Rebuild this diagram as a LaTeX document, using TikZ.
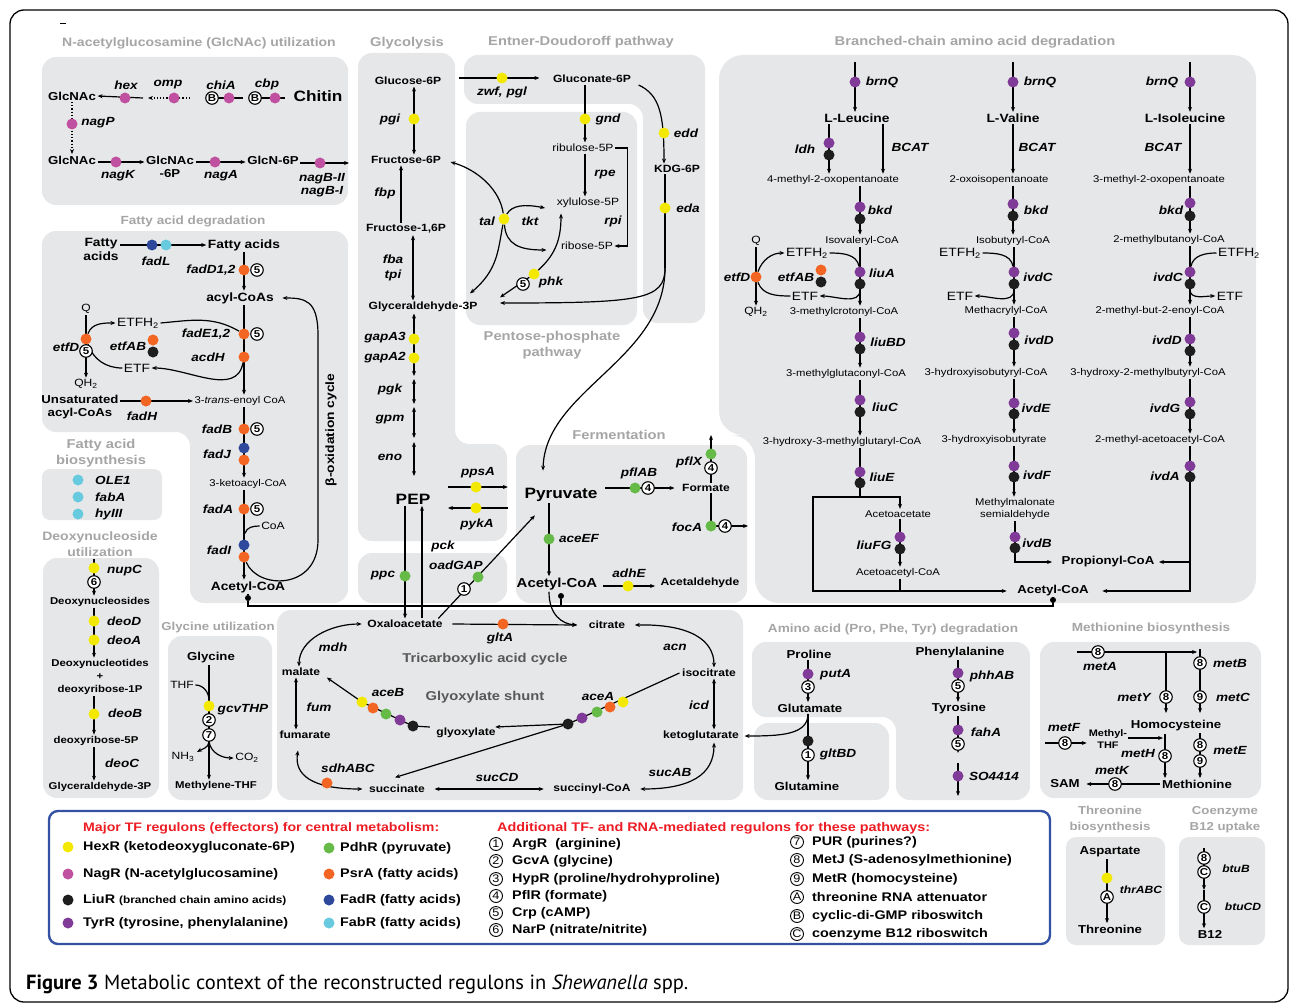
\documentclass[tikz,border=0pt]{standalone}
\usepackage{fontspec}
\setmainfont{Liberation Sans}[FakeStretch=1.15]
\newfontfamily\capfont{PT Sans}
\usetikzlibrary{arrows.meta}
\pgfdeclarelayer{bg}
\pgfdeclarelayer{ln}
\pgfsetlayers{bg,ln,main}

\definecolor{boxgray}{RGB}{230,231,232}
\definecolor{ttlgray}{RGB}{165,165,165}
\definecolor{txtgray}{RGB}{88,88,88}
\definecolor{hexc}{RGB}{243,232,0}
\definecolor{nagc}{RGB}{192,80,160}
\definecolor{liuc}{RGB}{30,30,30}
\definecolor{tyrc}{RGB}{128,58,152}
\definecolor{pdhc}{RGB}{102,186,72}
\definecolor{psrc}{RGB}{242,101,34}
\definecolor{fadc}{RGB}{46,72,156}
\definecolor{fabc}{RGB}{104,202,222}
\definecolor{legred}{RGB}{237,28,36}
\definecolor{legblue}{RGB}{52,82,164}

\tikzset{
  met/.style={font=\bfseries\fontsize{10.5}{12.5}\selectfont, inner sep=1.5pt},
  metm/.style={font=\bfseries\fontsize{11.5}{13.5}\selectfont, inner sep=1.5pt},
  metb/.style={font=\bfseries\fontsize{12}{14}\selectfont, inner sep=1.5pt},
  metc/.style={font=\bfseries\fontsize{13}{15}\selectfont, inner sep=1.5pt},
  metl/.style={font=\bfseries\fontsize{15}{17}\selectfont, inner sep=1.5pt},
  mets/.style={font=\bfseries\fontsize{9.9}{12}\selectfont, inner sep=1.5pt},
  metr/.style={font=\fontsize{9.8}{12}\selectfont, inner sep=1.5pt},
  metr2/.style={font=\fontsize{10.5}{12}\selectfont, inner sep=1.5pt},
  metq/.style={font=\fontsize{12}{13}\selectfont, inner sep=1.5pt},
  gene/.style={font=\bfseries\itshape\fontsize{11.8}{13.5}\selectfont, inner sep=1pt},
  genes/.style={font=\bfseries\itshape\fontsize{10.5}{12}\selectfont, inner sep=1pt},
  grp/.style={font=\bfseries\fontsize{12.8}{16}\selectfont, text=ttlgray, align=center},
  grpn/.style={font=\bfseries\fontsize{11.8}{16}\selectfont, text=ttlgray, align=center},
  grps/.style={font=\bfseries\fontsize{11.5}{16}\selectfont, text=ttlgray, align=center},
  inttl/.style={font=\bfseries\fontsize{12.8}{15}\selectfont, text=txtgray},
  area/.style={fill=boxgray, rounded corners=14pt},
  rdot/.style={circle, fill=#1, inner sep=0pt, minimum size=11pt},
  jdot/.style={circle, fill=black, inner sep=0pt, minimum size=6pt},
  rg/.style={circle, draw, line width=1.1pt, fill=white, inner sep=0pt, minimum size=12.5pt, font=\bfseries\fontsize{10}{10}\selectfont},
  lg/.style={circle, draw, line width=0.9pt, inner sep=0pt, minimum size=13pt, font=\fontsize{11}{11}\selectfont},
  legtxt/.style={anchor=west, font=\bfseries\fontsize{12.5}{14}\selectfont, inner sep=0pt},
  con/.style={line width=1.2pt},
  >={Stealth[length=5pt,width=4pt]}
}

\begin{document}
\begin{tikzpicture}[x=1pt,y=-1pt]
\useasboundingbox (0,0) rectangle (1290,1003);
\draw[line width=1.3pt, rounded corners=14pt] (10,1002) -- (10,10) -- (1288,10) -- (1288,1002) -- cycle;
\draw[line width=1pt] (60,24) -- (66,24);

\begin{pgfonlayer}{bg}
  \fill[area] (42,57) rectangle (348,205);
  \fill[area] (42,231) -- (348,231) -- (348,603) -- (190,603) -- (190,432) -- (42,432) -- cycle;
  \fill[area, rounded corners=8pt] (42,469) rectangle (162,520);
  \fill[area] (43,558) rectangle (159,798);
  \fill[area] (168,636) rectangle (272,800);
  \fill[area] (358,53) -- (455,53) -- (455,444) -- (507,444) -- (507,541) -- (358,541) -- cycle;
  \fill[area] (358,553) rectangle (507,603);
  \fill[area] (464,55) -- (705,55) -- (705,323) -- (643,323) -- (643,104) -- (464,104) -- cycle;
  \fill[area] (466,112) rectangle (637,325);
  \fill[area] (516,445) rectangle (747,603);
  \fill[area, rounded corners=24pt] (719,55) -- (1256,55) -- (1256,603) -- (755,603) -- (755,435) -- (719,435) -- cycle;
  \fill[area] (277,610) rectangle (743,800);
  \fill[area] (752,642) -- (1030,642) -- (1030,800) -- (896,800) -- (896,717) -- (752,717) -- cycle;
  \fill[area] (754,723) rectangle (889,800);
  \fill[area] (1040,642) rectangle (1261,798);
  \fill[area, rounded corners=10pt] (1066,837) rectangle (1165,945);
  \fill[area, rounded corners=10pt] (1179,837) rectangle (1265,945);
\end{pgfonlayer}

%% group titles
\node[grp, font=\bfseries\fontsize{12.2}{16}\selectfont] (tglc) at (199,43) {N-acetylglucosamine (GlcNAc) utilization};
\node[grp] (tglyc) at (407,43) {Glycolysis};
\node[grp] (ted) at (581,42) {Entner-Doudoroff pathway};
\node[grp] (tbcaa) at (975,42) {Branched-chain amino acid degradation};
\node[grpn] (tfad) at (193,221) {Fatty acid degradation};
\node[grp] (tfab) at (101,453) {Fatty acid\\biosynthesis};
\node[grp, font=\bfseries\fontsize{12.2}{16}\selectfont] (tdeo) at (100,544) {Deoxynucleoside\\utilization};
\node[grps] (tgly) at (218,628) {Glycine utilization};
\node[grp] (tppp) at (552,345) {Pentose-phosphate\\pathway};
\node[grp] (tfer) at (619,435) {Fermentation};
\node[grpn] (taa) at (893,629) {Amino acid (Pro, Phe, Tyr) degradation};
\node[grpn] (tmet) at (1151,628) {Methionine biosynthesis};
\node[grps] (tthr) at (1110,820) {Threonine\\biosynthesis};
\node[grps] (tb12) at (1225,820) {Coenzyme\\B12 uptake};

%% GlcNAc utilization
\node[metm] (glcA) at (72,96) {GlcNAc};
\node[metl] (chitin) at (318,96) {Chitin};
\node[metm] (glcB) at (72,160) {GlcNAc};
\node[metm, align=center] (glc6p) at (170,167) {GlcNAc\\-6P};
\node[metm] (gln6p) at (273,160) {GlcN-6P};
\coordinate (nagout) at (349,163);
\node[rdot=nagc] (hexd) at (125,98) {};
\node[gene] (ghex) at (126,85) {hex};
\node[rdot=nagc] (ompd) at (174,98) {};
\node[gene] (gomp) at (168,85) {omp};
\node[rg] (chiB) at (212,98) {B};
\node[rdot=nagc] (chid) at (229,98) {};
\node[gene] (gchi) at (221,85) {chiA};
\node[rg] (cbpB) at (255,98) {B};
\node[rdot=nagc] (cbpd) at (275,98) {};
\node[gene] (gcbp) at (267,84) {cbp};
\node[rdot=nagc] (nagPd) at (72,124) {};
\node[gene] (gnagP) at (98,123) {nagP};
\node[rdot=nagc] (nagKd) at (116,162) {};
\node[gene] (gnagK) at (118,176) {nagK};
\node[rdot=nagc] (nagAd) at (215,162) {};
\node[gene] (gnagA) at (221,176) {nagA};
\node[rdot=nagc] (nagBd) at (320,163) {};
\node[gene, align=center] (gnagB) at (322,185) {nagB-II\\nagB-I};

%% fatty acid degradation
\node[metb, align=center] (faout) at (101,249) {Fatty\\acids};
\node[metb] (fain) at (244,245) {Fatty acids};
\node[metb] (acyl) at (240,298) {acyl-CoAs};
\node[metr] (enoyl) at (240,401) {3-\textit{trans}-enoyl CoA};
\node[metr] (ketoacyl) at (248,484) {3-ketoacyl-CoA};
\node[metb] (acfa) at (248,587) {Acetyl-CoA};
\node[metm, align=center] (unsat) at (80,407) {Unsaturated\\acyl-CoAs};
\node[metr2] (qa) at (86,309) {Q};
\node[metr2] (qha) at (86,384) {QH\textsubscript{2}};
\node[metq] (etfha) at (138,323) {ETFH\textsubscript{2}};
\node[metq] (etfa) at (137,368) {ETF};
\node[metr2] (coa) at (273,526) {CoA};
\node[rdot=fadc] (fadL1) at (152,245) {};
\node[rdot=fabc] (fadL2) at (166,245) {};
\node[gene] (gfadL) at (156,261) {fadL};
\node[rdot=psrc] (fadDd) at (244,270) {};
\node[rg] (fadDr) at (257,270) {5};
\node[gene] (gfadD) at (211,270) {fadD1,2};
\node[rdot=psrc] (fadEd) at (244,334) {};
\node[rg] (fadEr) at (257,334) {5};
\node[gene] (gfadE) at (206,334) {fadE1,2};
\node[rdot=psrc] (acdHd) at (244,357) {};
\node[gene] (gacdH) at (208,357) {acdH};
\node[rdot=psrc] (etfDd) at (86,339) {};
\node[rg] (etfDr) at (86,351) {5};
\node[gene] (getfD) at (66,347) {etfD};
\node[rdot=psrc] (etfAB1) at (153,340) {};
\node[rdot=liuc] (etfAB2) at (153,352) {};
\node[gene] (getfAB) at (128,346) {etfAB};
\node[rdot=psrc] (fadHd) at (146,401) {};
\node[gene] (gfadH) at (142,416) {fadH};
\node[rdot=psrc] (fadBd) at (244,429) {};
\node[rg] (fadBr) at (257,429) {5};
\node[gene] (gfadB) at (217,429) {fadB};
\node[rdot=fadc] (fadJ1) at (244,448) {};
\node[rdot=psrc] (fadJ2) at (244,460) {};
\node[gene] (gfadJ) at (217,454) {fadJ};
\node[rdot=psrc] (fadAd) at (244,509) {};
\node[rg] (fadAr) at (257,509) {5};
\node[gene] (gfadA) at (218,509) {fadA};
\node[rdot=fadc] (fadI1) at (244,545) {};
\node[rdot=psrc] (fadI2) at (244,557) {};
\node[gene] (gfadI) at (219,550) {fadI};
\node[font=\bfseries\fontsize{12}{12}\selectfont, rotate=90] (betaox) at (331,430) {β-oxidation cycle};
\node[jdot] (acfab) at (248,598) {};
\coordinate (busL) at (248,606);

%% fatty acid biosynthesis
\node[rdot=fabc] (ole1d) at (78,480) {};
\node[gene, anchor=west] (gole1) at (94,480) {OLE1};
\node[rdot=fabc] (fabAd) at (78,497) {};
\node[gene, anchor=west] (gfabA) at (94,497) {fabA};
\node[rdot=fabc] (hyd) at (78,514) {};
\node[gene, anchor=west] (ghy) at (94,514) {hyIII};

%% deoxynucleoside utilization
\coordinate (nuptop) at (94,559);
\node[mets] (dns) at (100,602) {Deoxynucleosides};
\node[mets] (dnt) at (100,664) {Deoxynucleotides};
\node[mets] (dplus) at (100,677) {+};
\node[mets] (dr1p) at (100,690) {deoxyribose-1P};
\node[mets] (dr5p) at (96,741) {deoxyribose-5P};
\node[mets] (gapd) at (100,787) {Glyceraldehyde-3P};
\node[rdot=hexc] (nupd) at (94,568) {};
\node[rg] (nupr) at (94,582) {6};
\node[gene, anchor=west] (gnup) at (106,571) {nupC};
\node[rdot=hexc] (deoDd) at (94,621) {};
\node[gene, anchor=west] (gdeoD) at (106,621) {deoD};
\node[rdot=hexc] (deoAd) at (94,640) {};
\node[gene, anchor=west] (gdeoA) at (106,640) {deoA};
\node[rdot=hexc] (deoBd) at (94,714) {};
\node[gene, anchor=west] (gdeoB) at (107,713) {deoB};
\node[gene, anchor=west] (gdeoC) at (104,763) {deoC};

%% glycine utilization
\node[metm] (glyc) at (211,658) {Glycine};
\node[metr2] (thf) at (182,685) {THF};
\node[metr2] (nh3) at (183,757) {NH\textsubscript{3}};
\node[metr2] (co2) at (247,758) {CO\textsubscript{2}};
\node[mets] (mthf) at (216,786) {Methylene-THF};
\node[rdot=hexc] (gcvd) at (209,706) {};
\node[rg] (gcv2) at (209,720) {2};
\node[rg] (gcv7) at (209,735) {7};
\node[gene] (ggcv) at (243,710) {gcvTHP};

%% glycolysis
\node[met] (g6p) at (408,81) {Glucose-6P};
\node[met] (f6p) at (406,160) {Fructose-6P};
\node[met] (f16p) at (406,229) {Fructose-1,6P};
\node[met] (gap) at (423,307) {Glyceraldehyde-3P};
\node[metl] (pep) at (413,499) {PEP};
\node[rdot=hexc] (pgid) at (414,119) {};
\node[gene] (gpgi) at (390,119) {pgi};
\coordinate (fbpx) at (401,190);
\node[gene] (gfbp) at (385,193) {fbp};
\coordinate (fbax) at (413,265);
\node[gene] (gfba) at (393,259) {fba};
\node[gene] (gtpi) at (393,275) {tpi};
\coordinate (gk1) at (414,376);
\coordinate (gk2) at (414,379);
\coordinate (gk3) at (414,404);
\coordinate (gk4) at (414,407);
\coordinate (gk5) at (414,438);
\coordinate (gk6) at (414,442);
\coordinate (gk7) at (414,476);
\node[rdot=hexc] (gapA3d) at (414,339) {};
\node[gene] (ggapA3) at (385,338) {gapA3};
\node[rdot=hexc] (gapA2d) at (414,358) {};
\node[gene] (ggapA2) at (385,358) {gapA2};
\node[gene] (gpgk) at (390,389) {pgk};
\node[gene] (ggpm) at (390,420) {gpm};
\node[gene] (geno) at (390,457) {eno};
\node[rdot=hexc] (ppsAd) at (476,487) {};
\node[gene] (gppsA) at (478,473) {ppsA};
\node[rdot=hexc] (pykAd) at (476,508) {};
\node[gene] (gpykA) at (477,524) {pykA};
\node[rdot=pdhc] (ppcd) at (405,576) {};
\node[gene] (gppc) at (383,576) {ppc};
\coordinate (pckx) at (422,560);
\node[gene] (gpck) at (443,546) {pck};
\node[gene] (goad) at (456,565) {oadGAP};
\node[rdot=pdhc] (oadd) at (478,577) {};
\node[rg] (oadr) at (464,589) {1};

%% Entner-Doudoroff and pentose phosphate
\node[met] (gn6p) at (592,79) {Gluconate-6P};
\node[met] (kdg) at (677,169) {KDG-6P};
\node[metr2] (ru5p) at (583,148) {ribulose-5P};
\node[metr2] (xu5p) at (588,203) {xylulose-5P};
\node[metr2] (r5p) at (587,246) {ribose-5P};
\node[rdot=hexc] (zwfd) at (502,78) {};
\node[gene] (gzwf) at (502,92) {zwf, pgl};
\node[rdot=hexc] (gndd) at (585,119) {};
\node[gene] (ggnd) at (608,119) {gnd};
\node[gene] (grpe) at (605,175) {rpe};
\node[gene] (grpi) at (613,221) {rpi};
\node[rdot=hexc] (eddd) at (664,133) {};
\node[gene] (gedd) at (686,133) {edd};
\node[rdot=hexc] (edad) at (665,208) {};
\node[gene] (geda) at (688,208) {eda};
\coordinate (edaj) at (665,268);
\node[rdot=hexc] (tald) at (504,219) {};
\node[gene] (gtal) at (487,221) {tal};
\node[gene] (gtkt) at (530,221) {tkt};
\node[rdot=hexc] (phkd) at (534,274) {};
\node[rg] (phkr) at (523,284) {5};
\node[gene] (gphk) at (551,282) {phk};

%% fermentation
\node[metl] (pyr) at (561,495) {Pyruvate};
\node[met] (form) at (706,488) {Formate};
\node[metc] (acfer) at (557,584) {Acetyl-CoA};
\node[met] (acald) at (700,583) {Acetaldehyde};
\node[rdot=pdhc] (pflABd) at (635,488) {};
\node[rg] (pflABr) at (648,488) {4};
\node[gene] (gpflAB) at (639,473) {pflAB};
\node[rdot=pdhc] (pflXd) at (711,454) {};
\node[rg] (pflXr) at (711,468) {4};
\node[gene] (gpflX) at (689,462) {pflX};
\coordinate (pflXt) at (711,435);
\node[rdot=pdhc] (focAd) at (711,526) {};
\node[rg] (focAr) at (725,526) {4};
\node[gene] (gfocA) at (687,527) {focA};
\coordinate (focAt) at (748,526);
\node[rdot=pdhc] (aceEFd) at (549,539) {};
\node[gene] (gaceEF) at (579,538) {aceEF};
\node[rdot=hexc] (adhEd) at (628,586) {};
\node[gene] (gadhE) at (629,573) {adhE};
\node[jdot] (acferb) at (561,596) {};

%% TCA cycle
\node[met] (oaa) at (405,624) {Oxaloacetate};
\node[met] (cit) at (607,625) {citrate};
\node[met] (icit) at (709,673) {isocitrate};
\node[met] (akg) at (701,736) {ketoglutarate};
\node[met] (sucoa) at (592,789) {succinyl-CoA};
\node[met] (succ) at (397,789) {succinate};
\node[met] (fum) at (305,735) {fumarate};
\node[met] (mal) at (301,672) {malate};
\node[met] (glx) at (466,733) {glyoxylate};
\node[inttl] (ttca) at (485,659) {Tricarboxylic acid cycle};
\node[inttl] (tgs) at (485,697) {Glyoxylate shunt};
\node[rdot=psrc] (gltAd) at (503,624) {};
\node[gene] (ggltA) at (500,638) {gltA};
\node[gene] (gmdh) at (333,647) {mdh};
\node[gene] (gacn) at (675,647) {acn};
\node[gene] (gfum) at (319,707) {fum};
\node[gene] (gicd) at (699,705) {icd};
\coordinate (icdx) at (714,700);
\coordinate (fumx) at (296,700);
\node[rdot=psrc] (sdhd) at (327,783) {};
\node[gene] (gsdh) at (348,768) {sdhABC};
\node[gene] (gsucCD) at (497,777) {sucCD};
\node[gene] (gsucAB) at (670,772) {sucAB};
\node[rdot=hexc] (aceBy) at (362,702) {};
\node[rdot=psrc] (aceBo) at (373,708) {};
\node[rdot=pdhc] (aceBg) at (386,714) {};
\node[rdot=tyrc] (aceBp) at (400,720) {};
\node[rdot=liuc] (aceBk) at (413,726) {};
\node[gene] (gaceB) at (388,692) {aceB};
\node[rdot=hexc] (aceAy) at (623,702) {};
\node[rdot=psrc] (aceAo) at (610,707) {};
\node[rdot=pdhc] (aceAg) at (597,712) {};
\node[rdot=tyrc] (aceAp) at (582,718) {};
\node[rdot=liuc] (aceAk) at (568,724) {};
\node[gene] (gaceA) at (598,696) {aceA};

%% branched-chain amino acid degradation
\node[metb] (leu) at (857,118) {L-Leucine};
\node[metb] (val) at (1013,118) {L-Valine};
\node[metb] (ile) at (1185,118) {L-Isoleucine};
\node[metr] (kmoa) at (833,180) {4-methyl-2-oxopentanoate};
\node[metr] (oiv) at (999,180) {2-oxoisopentanoate};
\node[metr] (kmv) at (1159,180) {3-methyl-2-oxopentanoate};
\node[metr] (ivc) at (862,241) {Isovaleryl-CoA};
\node[metr] (ibc) at (1013,241) {Isobutyryl-CoA};
\node[metr] (mbc) at (1169,240) {2-methylbutanoyl-CoA};
\node[metr] (mcc) at (844,312) {3-methylcrotonyl-CoA};
\node[metr] (macr) at (1006,311) {Methacrylyl-CoA};
\node[metr] (mbe) at (1160,311) {2-methyl-but-2-enoyl-CoA};
\node[metr] (mgc) at (846,374) {3-methylglutaconyl-CoA};
\node[metr] (hibc) at (986,373) {3-hydroxyisobutyryl-CoA};
\node[metr] (hmbc) at (1148,373) {3-hydroxy-2-methylbutyryl-CoA};
\node[metr] (hmg) at (842,442) {3-hydroxy-3-methylglutaryl-CoA};
\node[metr] (hib) at (994,440) {3-hydroxyisobutyrate};
\node[metr] (maac) at (1160,440) {2-methyl-acetoacetyl-CoA};
\node[metr] (acac) at (898,514) {Acetoacetate};
\node[metr, align=center] (mms) at (1015,509) {Methylmalonate\\semialdehyde};
\node[metr] (acacoa) at (898,573) {Acetoacetyl-CoA};
\node[metm] (prop) at (1108,562) {Propionyl-CoA};
\node[metm] (acb) at (1053,591) {Acetyl-CoA};
\node[jdot] (acbb) at (1053,600) {};
\coordinate (busR) at (1053,606);
\node[metr2] (qb) at (756,241) {Q};
\node[metr2] (qhb) at (756,312) {QH\textsubscript{2}};
\node[metq] (etfhb) at (807,253) {ETFH\textsubscript{2}};
\node[metq] (etfb) at (805,296) {ETF};
\node[metq] (etfhc) at (960,253) {ETFH\textsubscript{2}};
\node[metq] (etfc) at (960,296) {ETF};
\node[metq] (etfhd) at (1239,253) {ETFH\textsubscript{2}};
\node[metq] (etfd) at (1230,296) {ETF};
% leucine column
\coordinate (bq1) at (855,62);
\node[rdot=tyrc] (brnQ1) at (855,82) {};
\node[gene] (gbrnQ1) at (882,82) {brnQ};
\node[rdot=tyrc] (ldhp) at (829,143) {};
\node[rdot=liuc] (ldhk) at (829,155) {};
\node[gene] (gldh) at (805,149) {ldh};
\coordinate (bcat1) at (883,150);
\node[gene] (gbcat1) at (910,147) {BCAT};
\node[rdot=tyrc] (bkd1p) at (860,207) {};
\node[rdot=liuc] (bkd1k) at (860,219) {};
\node[gene] (gbkd1) at (880,210) {bkd};
\node[rdot=psrc] (etfDb) at (756,277) {};
\node[gene] (getfDb) at (737,277) {etfD};
\node[rdot=psrc] (etfABb1) at (821,270) {};
\node[rdot=liuc] (etfABb2) at (821,282) {};
\node[gene] (getfABb) at (796,277) {etfAB};
\node[rdot=tyrc] (liuAp) at (860,272) {};
\node[rdot=liuc] (liuAk) at (860,284) {};
\node[gene] (gliuA) at (882,273) {liuA};
\node[rdot=tyrc] (liuBDp) at (860,337) {};
\node[rdot=liuc] (liuBDk) at (860,349) {};
\node[gene] (gliuBD) at (888,342) {liuBD};
\node[rdot=tyrc] (liuCp) at (860,400) {};
\node[rdot=liuc] (liuCk) at (860,412) {};
\node[gene] (gliuC) at (885,407) {liuC};
\node[rdot=tyrc] (liuEp) at (860,472) {};
\node[rdot=liuc] (liuEk) at (860,483) {};
\node[gene] (gliuE) at (882,477) {liuE};
\coordinate (liuEj) at (860,497);
\coordinate (liuEl) at (813,497);
\node[rdot=tyrc] (liuFGp) at (900,537) {};
\node[rdot=liuc] (liuFGk) at (900,549) {};
\node[gene] (gliuFG) at (874,545) {liuFG};
% valine column
\coordinate (bq2) at (1013,62);
\node[rdot=tyrc] (brnQ2) at (1013,82) {};
\node[gene] (gbrnQ2) at (1040,82) {brnQ};
\node[gene] (gbcat2) at (1037,147) {BCAT};
\node[rdot=tyrc] (bkd2p) at (1013,204) {};
\node[rdot=liuc] (bkd2k) at (1013,216) {};
\node[gene] (gbkd2) at (1036,210) {bkd};
\node[rdot=tyrc] (ivdC2p) at (1014,272) {};
\node[rdot=liuc] (ivdC2k) at (1014,284) {};
\node[gene] (givdC2) at (1038,277) {ivdC};
\node[rdot=tyrc] (ivdD2p) at (1014,333) {};
\node[rdot=liuc] (ivdD2k) at (1014,345) {};
\node[gene] (givdD2) at (1039,340) {ivdD};
\node[rdot=tyrc] (ivdEp) at (1014,403) {};
\node[rdot=liuc] (ivdEk) at (1014,414) {};
\node[gene] (givdE) at (1036,408) {ivdE};
\node[rdot=tyrc] (ivdFp) at (1014,466) {};
\node[rdot=liuc] (ivdFk) at (1014,477) {};
\node[gene] (givdF) at (1037,475) {ivdF};
\node[rdot=tyrc] (ivdBp) at (1015,537) {};
\node[rdot=liuc] (ivdBk) at (1015,548) {};
\node[gene] (givdB) at (1037,543) {ivdB};
% isoleucine column
\coordinate (bq3) at (1190,62);
\node[rdot=tyrc] (brnQ3) at (1190,82) {};
\node[gene] (gbrnQ3) at (1162,82) {brnQ};
\node[gene] (gbcat3) at (1163,147) {BCAT};
\node[rdot=tyrc] (bkd3p) at (1190,203) {};
\node[rdot=liuc] (bkd3k) at (1190,216) {};
\node[gene] (gbkd3) at (1171,210) {bkd};
\node[rdot=tyrc] (ivdC3p) at (1190,272) {};
\node[rdot=liuc] (ivdC3k) at (1190,284) {};
\node[gene] (givdC3) at (1168,277) {ivdC};
\node[rdot=tyrc] (ivdD3p) at (1190,339) {};
\node[rdot=liuc] (ivdD3k) at (1190,351) {};
\node[gene] (givdD3) at (1167,340) {ivdD};
\node[rdot=tyrc] (ivdGp) at (1190,402) {};
\node[rdot=liuc] (ivdGk) at (1190,414) {};
\node[gene] (givdG) at (1165,408) {ivdG};
\node[rdot=tyrc] (ivdAp) at (1190,466) {};
\node[rdot=liuc] (ivdAk) at (1190,477) {};
\node[gene] (givdA) at (1165,476) {ivdA};

%% amino acid degradation
\node[metm] (pro) at (809,654) {Proline};
\node[metm] (glu) at (810,708) {Glutamate};
\node[metm] (gln) at (807,786) {Glutamine};
\node[metm] (phe) at (960,653) {Phenylalanine};
\node[metm] (tyr) at (959,709) {Tyrosine};
\node[rdot=tyrc] (putAd) at (808,674) {};
\node[rg] (putAr) at (808,687) {3};
\node[gene, anchor=west] (gputA) at (819,675) {putA};
\node[rdot=liuc] (gltd) at (808,741) {};
\node[rg] (gltr) at (808,755) {1};
\node[gene] (ggltBD) at (838,754) {gltBD};
\node[rdot=tyrc] (phhd) at (958,673) {};
\node[rg] (phhr) at (958,686) {5};
\node[gene] (gphh) at (992,676) {phhAB};
\node[rdot=tyrc] (fahd) at (958,730) {};
\node[rg] (fahr) at (958,744) {5};
\node[gene] (gfah) at (986,732) {fahA};
\coordinate (fahend) at (958,753);
\coordinate (so44s) at (958,763);
\coordinate (so44t) at (958,796);
\node[rdot=tyrc] (so44d) at (958,776) {};
\node[gene] (gso44) at (994,776) {SO4414};

%% methionine biosynthesis
\node[metm] (hcy) at (1176,726) {Homocysteine};
\node[metm] (metn) at (1197,784) {Methionine};
\node[metm] (sam) at (1065,784) {SAM};
\node[font=\bfseries\fontsize{9.5}{12}\selectfont, align=center, inner sep=1pt] (mthf2) at (1108,739) {Methyl-\\THF};
\coordinate (metAin) at (1077,652);
\coordinate (metBt) at (1197,652);
\coordinate (metBtop) at (1200,649);
\coordinate (metYj) at (1166,652);
\coordinate (hcyt) at (1176,713);
\coordinate (metFin) at (1045,743);
\coordinate (metHtop) at (1165,734);
\coordinate (metHj) at (1163,738);
\node[rg] (metAr) at (1098,652) {8};
\node[gene] (gmetA) at (1100,666) {metA};
\node[rg] (metBr) at (1200,663) {8};
\node[gene] (gmetB) at (1230,663) {metB};
\node[rg] (metCr) at (1200,697) {9};
\node[gene] (gmetC) at (1233,697) {metC};
\node[rg] (metYr) at (1166,697) {8};
\node[gene] (gmetY) at (1134,697) {metY};
\node[rg] (metFr) at (1065,743) {8};
\node[gene] (gmetF) at (1064,727) {metF};
\node[rg] (metHr) at (1165,756) {8};
\node[gene] (gmetH) at (1138,753) {metH};
\node[rg] (metEr1) at (1200,745) {8};
\node[rg] (metEr2) at (1200,761) {9};
\node[gene] (gmetE) at (1230,750) {metE};
\node[rg] (metKr) at (1115,784) {8};
\node[gene] (gmetK) at (1112,770) {metK};

%% threonine and B12
\node[metm] (asp) at (1110,852) {Aspartate};
\node[metm] (thr) at (1110,929) {Threonine};
\node[rdot=hexc] (thrd) at (1107,878) {};
\node[rg] (thrr) at (1107,897) {A};
\node[genes] (gthr) at (1141,890) {thrABC};
\coordinate (b12top) at (1204,848);
\coordinate (b12mid) at (1204,890);
\node[metm] (b12) at (1210,934) {B12};
\node[rg] (btuBr1) at (1204,858) {8};
\node[rg] (btuBr2) at (1204,872) {C};
\node[genes] (gbtuB) at (1236,869) {btuB};
\node[rg] (btuCDr) at (1204,907) {C};
\node[genes] (gbtuCD) at (1243,907) {btuCD};

%% legend
\draw[legblue, line width=2.4pt, rounded corners=9pt] (49,811) rectangle (1050,944);
\node[legtxt, text=legred, font=\bfseries\fontsize{12.3}{14}\selectfont] (lt1) at (83,828) {Major TF regulons (effectors) for central metabolism:};
\node[legtxt, text=legred, font=\bfseries\fontsize{12.5}{14}\selectfont] (lt2) at (497,828) {Additional TF- and RNA-mediated regulons for these pathways:};
\node[rdot=hexc] (lhex) at (68,847) {};
\node[legtxt] (lhext) at (83,847) {HexR (ketodeoxygluconate-6P)};
\node[rdot=nagc] (lnag) at (68,874) {};
\node[legtxt] (lnagt) at (83,874) {NagR (N-acetylglucosamine)};
\node[rdot=liuc] (lliu) at (68,900) {};
\node[legtxt] (lliut) at (83,900) {LiuR {\fontsize{10.3}{12}\selectfont (branched chain amino acids)}};
\node[rdot=tyrc] (ltyr) at (68,923) {};
\node[legtxt] (ltyrt) at (83,923) {TyrR (tyrosine, phenylalanine)};
\node[rdot=pdhc] (lpdh) at (329,848) {};
\node[legtxt] (lpdht) at (340,848) {PdhR (pyruvate)};
\node[rdot=psrc] (lpsr) at (329,874) {};
\node[legtxt] (lpsrt) at (340,874) {PsrA (fatty acids)};
\node[rdot=fadc] (lfad) at (329,900) {};
\node[legtxt] (lfadt) at (340,900) {FadR (fatty acids)};
\node[rdot=fabc] (lfab) at (329,923) {};
\node[legtxt] (lfabt) at (340,923) {FabR (fatty acids)};
\node[lg] (l1) at (496,844) {1};
\node[legtxt] (l1t) at (512,844) {ArgR\ \ (arginine)};
\node[lg] (l2) at (496,861) {2};
\node[legtxt] (l2t) at (512,861) {GcvA (glycine)};
\node[lg] (l3) at (496,879) {3};
\node[legtxt] (l3t) at (512,879) {HypR (proline/hydrohyproline)};
\node[lg] (l4) at (496,896) {4};
\node[legtxt] (l4t) at (512,896) {PflR (formate)};
\node[lg] (l5) at (496,913) {5};
\node[legtxt] (l5t) at (512,913) {Crp (cAMP)};
\node[lg] (l6) at (496,930) {6};
\node[legtxt] (l6t) at (512,930) {NarP (nitrate/nitrite)};
\node[lg] (l7) at (797,842) {7};
\node[legtxt] (l7t) at (812,842) {PUR (purines?)};
\node[lg] (l8) at (797,860) {8};
\node[legtxt] (l8t) at (812,860) {MetJ (S-adenosylmethionine)};
\node[lg] (l9) at (797,879) {9};
\node[legtxt] (l9t) at (812,879) {MetR (homocysteine)};
\node[lg] (lA) at (797,897) {A};
\node[legtxt] (lAt) at (812,897) {threonine RNA attenuator};
\node[lg] (lB) at (797,916) {B};
\node[legtxt] (lBt) at (812,916) {cyclic-di-GMP riboswitch};
\node[lg] (lC) at (797,934) {C};
\node[legtxt] (lCt) at (812,934) {coenzyme B12 riboswitch};

%% caption
\node[anchor=west, inner sep=0pt, font=\capfont\fontsize{20.5}{22}\selectfont] (cap) at (26,984) {\textbf{Figure 3} Metabolic context of the reconstructed regulons in \textit{Shewanella} spp.};

\begin{pgfonlayer}{ln}
  % GlcNAc
  \draw[con,->] ([xshift=10]cbpd.center) -- (cbpB.west);
  \draw[con,->] ([xshift=14]chid.center) -- (chiB.west);
  \draw[con,dotted,->] ([xshift=16]ompd.center) -- ([xshift=-26]ompd.center);
  \draw[con,->] ([xshift=18]hexd.center) -- (glcA.east);
  \draw[con,dotted,->] (glcA.south) -- (glcB.north);
  \draw[con,->] (glcB.east |- nagKd) -- (glc6p.west |- nagKd);
  \draw[con,->] (glc6p.east |- nagAd) -- (gln6p.west |- nagAd);
  \draw[con,->] (gln6p.east |- nagBd) -- (nagout);
  % fatty acids
  \draw[con,->] (faout.east |- fain) -- (fain.west);
  \draw[con,->] (fain.south -| fadDd) -- (acyl.north -| fadDd);
  \draw[con,->] (acyl.south -| fadEd) -- (enoyl.north -| fadEd);
  \draw[con,->] (unsat.east |- fadHd) -- (enoyl.west |- fadHd);
  \draw[con,->] (enoyl.south -| fadBd) -- (ketoacyl.north -| fadBd);
  \draw[con,->] (ketoacyl.south -| fadAd) -- (acfa.north -| fadAd);
  \draw[con,->] (qa.south) -- (qha.north);
  \draw[con,->] (etfDd) to[out=70,in=180] (etfha.west);
  \draw[con] (etfha.east) to[out=5,in=150] (fadEd);
  \draw[con,->] (acdHd) to[out=-100,in=0] (etfa.east);
  \draw[con] (etfa.west) to[out=180,in=-70] (etfDd);
  \draw[con] ([shift={(1,-6)}]fadI1.north) to[out=75,in=180] (coa.west);
  \draw[con,->] (fadI2) .. controls (258,590) and (318,590) .. (318,540) -- (318,335) .. controls (318,300) and (305,298) .. ([xshift=7]acyl.east);
  \draw[con] (acfa.south) -- (acfab) -- (busL) -- (busR) -- (acbb) -- (acb.south);
  \draw[con] (acferb) -- (acferb |- busL);
  % deoxynucleosides
  \draw[con,->] (nuptop) -- (dns.north -| nupd);
  \draw[con,->] (dns.south -| nupd) -- (dnt.north -| nupd);
  \draw[con,->] (dr1p.south -| nupd) -- (dr5p.north -| nupd);
  \draw[con,->] (dr5p.south -| nupd) -- (gapd.north -| nupd);
  % glycine
  \draw[con,->] (glyc.south -| gcvd) -- (mthf.north -| gcvd);
  \draw[con] (thf.east) to[out=0,in=90] (gcvd.north);
  \draw[con,->] (gcv7.south) to[out=-95,in=30] ([shift={(1,-5)}]nh3.east);
  \draw[con,->] (gcv7.south) to[out=-80,in=180] (co2.west);
  % glycolysis
  \draw[con,<->] (g6p.south -| pgid) -- (f6p.north -| pgid);
  \draw[con,->] (f16p.north -| fbpx) -- (f6p.south -| fbpx);
  \draw[con,<->] (f16p.south -| fbax) -- (gap.north -| fbax);
  \draw[con,<->] (gap.south -| gk1) -- (gk1);
  \draw[con,<->] (gk2) -- (gk3);
  \draw[con,<->] (gk4) -- (gk5);
  \draw[con,<->] (gk6) -- (gk7);
  \draw[con,->] ([xshift=16]pep.east |- ppsAd) -- ([xshift=-15]pyr.west |- ppsAd);
  \draw[con,->] ([xshift=-15]pyr.west |- pykAd) -- ([xshift=16]pep.east |- pykAd);
  \draw[con,->] (pep.south -| ppcd) -- (oaa.north -| ppcd);
  \draw[con,->] (oaa.north -| pckx) -- (pep.south -| pckx);
  \draw[con,->] ([xshift=-6]oaa.north east) -- ([shift={(12,12)}]pyr.south west);
  % ED and pentose phosphate
  \draw[con,->] ([xshift=16]g6p.east |- zwfd) -- ([xshift=-12]gn6p.west |- zwfd);
  \draw[con,->] (gn6p.south -| gndd) -- (ru5p.north -| gndd);
  \draw[con,->] (ru5p.south -| gndd) -- (xu5p.north -| gndd);
  \draw[con,->] (ru5p.east) -- ++(12,0) |- (r5p.east);
  \draw[con,->] ([shift={(6,6)}]gn6p.east) .. controls (660,95) and (664,115) .. (kdg.north -| eddd);
  \draw[con] (kdg.south -| edad) -- (edaj);
  \draw[con,->] (edaj) .. controls (665,300) and (640,303) .. ([shift={(21,-4)}]gap.east);
  \draw[con,->] (edaj) .. controls (665,360) and (545,390) .. ([shift={(-18,-16)}]pyr.north);
  \draw[con,->] (tald) .. controls (500,190) and (478,170) .. ([shift={(8,2)}]f6p.east);
  \draw[con,->] (tald) .. controls (512,205) and (525,204) .. ([shift={(-10,5)}]xu5p.west);
  \draw[con,->] (tald) .. controls (506,245) and (520,250) .. ([shift={(-13,4)}]r5p.west);
  \draw[con,->] (tald) .. controls (498,250) and (498,270) .. ([shift={(47,-7)}]gap.north);
  \draw[con,->] (phkd) .. controls (555,255) and (561,240) .. ([shift={(-27,4)}]xu5p.south);
  \draw[con,->] (phkd) -- ([shift={(77,-3)}]gap.north);
  % fermentation
  \draw[con,->] ([xshift=6]pyr.east |- pflABd) -- ([xshift=-6]form.west |- pflABd);
  \draw[con,->] (form.north -| pflXd) -- (pflXt);
  \draw[con,->] (form.south -| focAd) |- (focAt);
  \draw[con,->] (pyr.south -| aceEFd) -- (acfer.north -| aceEFd);
  \draw[con,->] ([xshift=4]acfer.east |- adhEd) -- ([xshift=-4]acald.west |- adhEd);
  \draw[con,->] ([xshift=-8]acfer.south) .. controls (549,615) and (562,624) .. ([xshift=-10]cit.west);
  % TCA
  \draw[con,->] ([xshift=8]oaa.east) -- ([xshift=-10]cit.west);
  \draw[con,<->] ([xshift=8]cit.east) .. controls (690,624) and (714,640) .. (icit.north -| icdx);
  \draw[con,<->] (icit.south -| icdx) -- (akg.north -| icdx);
  \draw[con,<->] (akg.south -| icdx) .. controls (714,775) and (690,789) .. ([xshift=8]sucoa.east);
  \draw[con,<->] ([xshift=8]succ.east) -- ([xshift=-8]sucoa.west);
  \draw[con,<->] ([shift={(-7,10)}]fum.south) .. controls (294,775) and (312,789) .. ([xshift=-5]succ.west);
  \draw[con,<->] (mal.south -| fumx) -- (fum.north -| fumx);
  \draw[con,<->] ([xshift=-2]mal.north) .. controls (299,640) and (330,624) .. ([xshift=-4]oaa.west);
  \draw[con,->] ([shift={(-5,-6)}]glx.west) -- (aceBk.center) -- (aceBy.center) -- ([xshift=5]mal.south east);
  \draw[con] ([xshift=-1]icit.west) -- (aceAk.center);
  \draw[con,->] (aceAk.center) -- ([shift={(-2,-6)}]glx.east);
  \draw[con,->] (aceAk.center) -- ([shift={(-2,-6)}]succ.north);
  % BCAA leucine
  \draw[con,->] (bq1) -- (leu.north -| bq1);
  \draw[con,->] (leu.south -| ldhp) -- (kmoa.north -| ldhp);
  \draw[con,->] (leu.south -| bcat1) -- (kmoa.north -| bcat1);
  \draw[con,->] (kmoa.south -| bkd1p) -- (ivc.north -| bkd1p);
  \draw[con,->] (ivc.south -| liuAp) -- (mcc.north -| liuAp);
  \draw[con,->] (qb.south) -- (qhb.north);
  \draw[con,->] (etfDb) to[out=70,in=180] (etfhb.west);
  \draw[con] (etfhb.east) to[out=0,in=100] (liuAp);
  \draw[con,->] (liuAk) to[out=-90,in=0] (etfb.east);
  \draw[con] (etfb.west) to[out=180,in=-70] (etfDb);
  \draw[con,->] (mcc.south -| liuBDp) -- (mgc.north -| liuBDp);
  \draw[con,->] (mgc.south -| liuCp) -- (hmg.north -| liuCp);
  \draw[con] (hmg.south -| liuEp) -- (liuEj);
  \draw[con,->] (liuEj) -| (acac.north -| liuFGp);
  \draw[con,->] (liuEj) -- (liuEl) -- (liuEl |- acb) -- ([xshift=-9]acb.west);
  \draw[con,->] (acac.south -| liuFGp) -- (acacoa.north -| liuFGp);
  \draw[con] (acacoa.south -| liuFGp) -- (liuFGp |- acb);
  % BCAA valine
  \draw[con,->] (bq2) -- (val.north -| bq2);
  \draw[con,->] (val.south -| bq2) -- (oiv.north -| bq2);
  \draw[con,->] (oiv.south -| bkd2p) -- (ibc.north -| bkd2p);
  \draw[con,->] (ibc.south -| ivdC2p) -- (macr.north -| ivdC2p);
  \draw[con] (etfhc.east) to[out=0,in=100] (ivdC2p);
  \draw[con,->] (ivdC2k) to[out=-90,in=0] (etfc.east);
  \draw[con,->] (macr.south -| ivdD2p) -- (hibc.north -| ivdD2p);
  \draw[con,->] (hibc.south -| ivdEp) -- (hib.north -| ivdEp);
  \draw[con,->] (hib.south -| ivdFp) -- (mms.north -| ivdFp);
  \draw[con,->] (mms.south -| ivdBp) |- ([xshift=-8]prop.west);
  % BCAA isoleucine
  \draw[con,->] (bq3) -- (ile.north -| bq3);
  \draw[con,->] (ile.south -| bq3) -- (kmv.north -| bq3);
  \draw[con,->] (kmv.south -| bkd3p) -- (mbc.north -| bkd3p);
  \draw[con,->] (mbc.south -| ivdC3p) -- (mbe.north -| ivdC3p);
  \draw[con] (etfhd.west) to[out=180,in=80] (ivdC3p);
  \draw[con,->] (ivdC3k) to[out=-90,in=180] (etfd.west);
  \draw[con,->] (mbe.south -| ivdD3p) -- (hmbc.north -| ivdD3p);
  \draw[con,->] (hmbc.south -| ivdGp) -- (maac.north -| ivdGp);
  \draw[con,->] (maac.south -| ivdAp) |- ([xshift=12]acb.east);
  \draw[con,->] (ivdAp |- prop) -- ([xshift=3]prop.east);
  % amino acids
  \draw[con,->] (pro.south -| putAd) -- (glu.north -| putAd);
  \draw[con,->] (glu.south -| gltd) -- (gln.north -| gltd);
  \draw[con,->] (glu.south -| gltd) .. controls (808,735) and (780,736) .. ([xshift=4]akg.east);
  \draw[con,->] (phe.south -| phhd) -- (tyr.north -| phhd);
  \draw[con,->] (tyr.south -| fahd) -- (fahend);
  \draw[con,->] (so44s) -- (so44t);
  % methionine
  \draw[con,->] (metAin) -- (metBt);
  \draw[con,->] (metBtop) -- (hcyt -| metBtop);
  \draw[con,->] (metYj) -- (hcyt -| metYj);
  \draw[con,->] (metFin) -- ([xshift=-1]mthf2.west |- metFin);
  \draw[con,->] (mthf2.east |- metHj) -- (metHj);
  \draw[con,->] (metHtop) -- (metn.north -| metHtop);
  \draw[con,->] (hcy.south -| metBtop) -- (metn.north -| metBtop);
  \draw[con,->] (metn.west) -- ([xshift=5]sam.east);
  % threonine, B12
  \draw[con,->] (asp.south -| thrd) -- (thr.north -| thrd);
  \draw[con,->] (b12top) -- (b12mid);
  \draw[con,->] (b12mid) -- (b12.north -| b12top);
\end{pgfonlayer}
\end{tikzpicture}
\end{document}
